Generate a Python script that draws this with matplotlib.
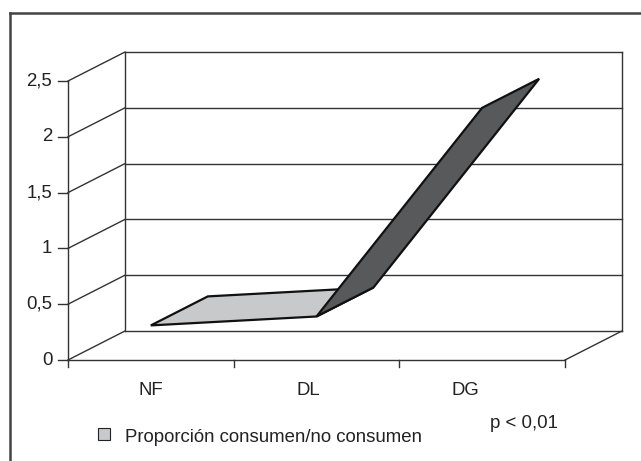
import numpy as np
import matplotlib
matplotlib.use("Agg")
import matplotlib.pyplot as plt
from matplotlib.lines import Line2D
from matplotlib.patches import Polygon, Rectangle

plt.rcParams['font.family'] = ['Liberation Sans', 'DejaVu Sans']

# data
categories = ['NF', 'DL', 'DG']
values = [0.31, 0.39, 2.26]
yticks = [0, 0.5, 1, 1.5, 2, 2.5]
ytick_labels = ['0', '0,5', '1', '1,5', '2', '2,5']
legend_label = 'Proporción consumen/no consumen'
note = 'p < 0,01'

# depth offset of the back wall, in data units
DX = 0.344
DY = 0.26
LIGHT = '#c8c9ca'
DARK = '#58595b'
GRID = '#333333'
FS = 13.4

fig = plt.figure(figsize=(6.41, 4.61), dpi=100)
ax = fig.add_axes([68/641, 101/461, 554/641, 308/461])
ax.set_xlim(0, len(categories) + DX)
ax.set_ylim(0, yticks[-1] + DY)
ax.axis('off')

ncat = len(categories)

def line(xs, ys, **kw):
    ax.add_line(Line2D(xs, ys, color=GRID, lw=1.0, clip_on=False, **kw))

# back wall gridlines + side wall diagonals + y ticks
for t, lab in zip(yticks, ytick_labels):
    line([DX, ncat + DX], [t + DY, t + DY])
    line([0, DX], [t, t + DY])
    line([-0.06, 0], [t, t])
    ax.text(-0.095, t, lab, ha='right', va='center', fontsize=FS, color='#222222')
line([DX, DX], [DY, yticks[-1] + DY])
line([ncat + DX, ncat + DX], [DY, yticks[-1] + DY])
line([0, 0], [0, yticks[-1]])

# floor
line([0, ncat], [0, 0])
line([ncat, ncat + DX], [0, DY])
for i in range(ncat + 1):
    line([i, i], [0, -0.065])
for i, c in enumerate(categories):
    ax.text(i + 0.5 - 0.05 * i, -0.27, c, ha='center', va='center', fontsize=FS, color='#222222')

# ribbon
xs = np.arange(ncat) + 0.5
for i in range(ncat - 1):
    x1, x2 = xs[i], xs[i + 1]
    v1, v2 = values[i], values[i + 1]
    pts = [(x1, v1), (x2, v2), (x2 + DX, v2 + DY), (x1 + DX, v1 + DY)]
    # orientation in pixel space decides which face we see
    cross = 165.67 * (DY * 111.6) - (v2 - v1) * 111.6 * (DX * 165.67)
    face = LIGHT if cross > 0 else DARK
    ax.add_patch(Polygon(pts, closed=True, facecolor=face, edgecolor='#111111',
                         lw=1.6, joinstyle='miter', zorder=3 + i))

# legend and note
fig.patches.append(Rectangle((98/641, 1 - 440/461), 12/641, 12/461, transform=fig.transFigure,
                             facecolor=LIGHT, edgecolor='#222222', lw=0.8))
fig.text(125/641, 1 - 437/461, legend_label, ha='left', va='center', fontsize=FS, color='#222222')
fig.text(524/641, 1 - 423/461, note, ha='center', va='center', fontsize=FS, color='#222222')

# outer frame (only left and top visible)
fig.add_artist(Line2D([10/641, 10/641], [0, 1 - 13/461], transform=fig.transFigure,
                      color='#444444', lw=1.8))
fig.add_artist(Line2D([10/641, 1], [1 - 13/461, 1 - 13/461], transform=fig.transFigure,
                      color='#444444', lw=1.8))

fig.savefig('out.png', dpi=100)
